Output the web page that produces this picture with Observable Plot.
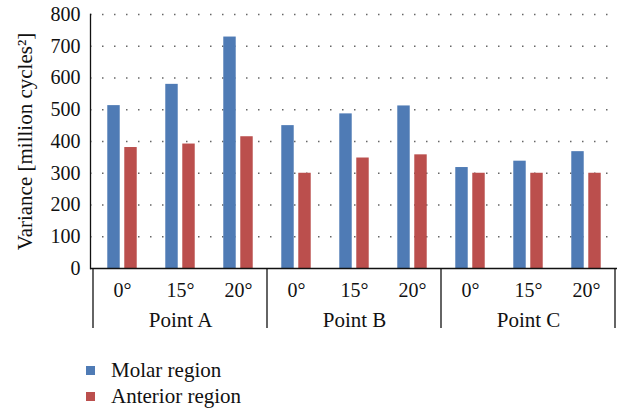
<!DOCTYPE html>
<html>
<head>
<meta charset="utf-8">
<script src="https://cdn.jsdelivr.net/npm/d3@7"></script>
<script src="https://cdn.jsdelivr.net/npm/@observablehq/plot@0.6"></script>
<style>
  html, body { margin: 0; padding: 0; background: #fff; }
  body { width: 621px; height: 411px; overflow: hidden; font-family: "Liberation Serif", "Times New Roman", serif; color: #111; }
  #chart svg, #chart svg text { font-family: "Liberation Serif", "Times New Roman", serif !important; }
  #legend { margin-top: 17px; padding-left: 86px; font-size: 21px; line-height: 26px; }
  .item { display: flex; align-items: center; height: 26px; }
  .sw { width: 9px; height: 9px; display: inline-block; margin-right: 16px; }
</style>
</head>
<body>
<div id="chart"></div>
<div id="legend"></div>
<script>
const points = ["Point A", "Point B", "Point C"];
const angles = ["0°", "15°", "20°"];
const series = ["Molar region", "Anterior region"];
const colors = ["#4f7bb5", "#bb4f4d"];
const molar = [513, 580, 729, 450, 487, 512, 318, 338, 368];
const anterior = [381, 392, 415, 300, 348, 358, 300, 300, 300];
const yTicks = [0, 100, 200, 300, 400, 500, 600, 700, 800];

const keys = [];
points.forEach(p => angles.forEach(a => keys.push(p + "|" + a)));
const data = [];
keys.forEach((k, i) => {
  data.push({key: k, series: series[0], value: molar[i]});
  data.push({key: k, series: series[1], value: anterior[i]});
});

const W = 621, H = 340, ML = 90, MR = 4, MT = 14, MB = 72;
const step = (W - ML - MR) / keys.length;
const barW = 13, gap = 4;
const inset = (step - barW) / 2;
const off = (barW + gap) / 2;

const chart = Plot.plot({
  width: W, height: H,
  marginLeft: ML, marginRight: MR, marginTop: MT, marginBottom: MB,
  style: {fontFamily: "'Liberation Serif', 'Times New Roman', serif", fontSize: "20px", color: "#111", background: "#fff"},
  x: {domain: keys, padding: 0, axis: null},
  y: {domain: [0, 800], axis: null},
  color: {domain: series, range: colors},
  marks: [
    Plot.gridY(yTicks.filter(t => t > 0), {stroke: "#666", strokeOpacity: 1, strokeWidth: 1.5, strokeDasharray: "1.5,10.5"}),
    Plot.axisY(yTicks, {tickSize: 0, tickPadding: 10, tickFormat: () => "", label: "Variance [million cycles²]", labelAnchor: "center", labelArrow: "none", labelOffset: 73, fontSize: 21}),
    Plot.axisY(yTicks, {tickSize: 0, tickPadding: 10, label: null}),
    Plot.axisX({tickSize: 0, tickPadding: 14, label: null, tickFormat: k => k.split("|")[1]}),
    Plot.barY(data.filter(d => d.series === series[0]), {x: "key", y: "value", fill: "series", insetLeft: inset, insetRight: inset, dx: -off}),
    Plot.barY(data.filter(d => d.series === series[1]), {x: "key", y: "value", fill: "series", insetLeft: inset, insetRight: inset, dx: off}),
    Plot.text(points, {x: p => p + "|" + angles[1], frameAnchor: "bottom", lineAnchor: "middle", dy: 52, fontSize: 21, text: d => d}),
    Plot.frame({anchor: "left", stroke: "#111", strokeWidth: 1.3}),
    Plot.ruleY([0], {stroke: "#111", strokeWidth: 1.3})
  ]
});

// group separators below the axis, positioned through the chart's own scales
const xs = chart.scale("x"), ys = chart.scale("y");
const bounds = [];
points.forEach(p => bounds.push(xs.apply(p + "|" + angles[0])));
bounds.push(xs.apply(keys[keys.length - 1]) + xs.bandwidth);
const y0 = ys.apply(0);
d3.select(chart).append("g")
  .attr("stroke", "#111").attr("stroke-width", 1.3)
  .selectAll("line").data(bounds).join("line")
  .attr("x1", d => d).attr("x2", d => d)
  .attr("y1", y0).attr("y2", y0 + 60);

document.getElementById("chart").appendChild(chart);

const legend = d3.select("#legend");
series.forEach((s, i) => {
  const it = legend.append("div").attr("class", "item");
  it.append("span").attr("class", "sw").style("background", colors[i]);
  it.append("span").text(s);
});
</script>
</body>
</html>
